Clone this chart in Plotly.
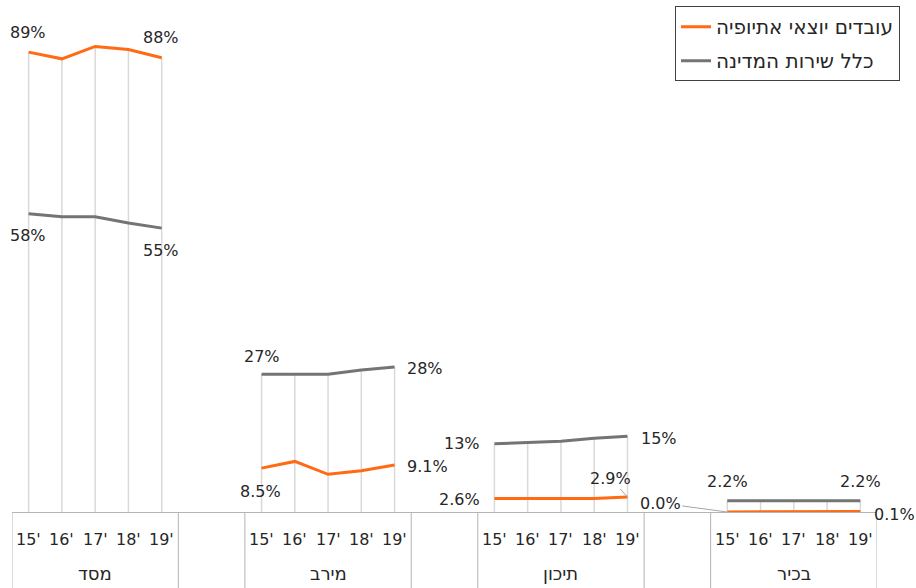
import plotly.graph_objects as go

groups = ['מסד', 'מירב', 'תיכון', 'בכיר']
years = ["15'", "16'", "17'", "18'", "19'"]
series_names = ['עובדים יוצאי אתיופיה', 'כלל שירות המדינה']

# percent per group, years 2015-2019
ethiopian = [
    [89.1, 87.8, 90.2, 89.6, 88.0],
    [8.5, 9.8, 7.3, 8.0, 9.1],
    [2.6, 2.6, 2.6, 2.6, 2.9],
    [0.0, 0.0, 0.1, 0.1, 0.1],
]
civil_service = [
    [57.8, 57.2, 57.2, 56.0, 55.0],
    [26.7, 26.7, 26.7, 27.5, 28.1],
    [13.2, 13.5, 13.7, 14.3, 14.7],
    [2.2, 2.2, 2.2, 2.2, 2.2],
]

ORANGE = '#FF6A13'
GREY = '#747474'
TEXT = '#262626'
FONT = 'DejaVu Sans'
GAP = 2  # empty categories between the groups
STEP = len(years) + GAP


def xs(g):
    return [g * STEP + i for i in range(len(years))]


def pct(v):
    return f'{v:.1f}%' if v < 10 else f'{v:.0f}%'


fig = go.Figure()

# drop lines from the axis up to the higher of the two series
drop_x, drop_y = [], []
for g in range(len(groups)):
    for x, a, b in zip(xs(g), ethiopian[g], civil_service[g]):
        drop_x += [x, x, None]
        drop_y += [0, max(a, b), None]
fig.add_trace(go.Scatter(x=drop_x, y=drop_y, mode='lines',
                         line={'color': '#d9d9d9', 'width': 1.5},
                         hoverinfo='skip', showlegend=False))

for name, data, color in [(series_names[0], ethiopian, ORANGE),
                          (series_names[1], civil_service, GREY)]:
    for g in range(len(groups)):
        fig.add_trace(go.Scatter(x=xs(g), y=data[g], mode='lines',
                                 line={'color': color, 'width': 3},
                                 name=name, legendgroup=name,
                                 showlegend=(g == 0)))

# data labels: (series, group, point, xanchor, xshift, yshift, leader offset)
label_pos = [
    (ethiopian, 0, 0, 'center', -1, 20, None),
    (ethiopian, 0, 4, 'center', -1, 20, None),
    (civil_service, 0, 0, 'center', -1, -22, None),
    (civil_service, 0, 4, 'center', -1, -22, None),
    (civil_service, 1, 0, 'center', 0, 18, None),
    (civil_service, 1, 4, 'left', 10, -2, None),
    (ethiopian, 1, 0, 'center', -1, -23, None),
    (ethiopian, 1, 4, 'left', 10, -1, None),
    (civil_service, 2, 0, 'right', -12, 0, None),
    (civil_service, 2, 4, 'left', 12, -2, None),
    (ethiopian, 2, 0, 'right', -12, -1, None),
    (ethiopian, 2, 4, 'center', 0, 0, (-17, -19)),
    (civil_service, 3, 0, 'center', 0, 19, None),
    (civil_service, 3, 4, 'center', 0, 19, None),
    (ethiopian, 3, 0, 'center', 0, 0, (-67, -9)),
    (ethiopian, 3, 4, 'left', 12, -3, None),
]
for data, g, i, xanchor, xshift, yshift, leader in label_pos:
    ann = dict(x=xs(g)[i], y=data[g][i], text=pct(data[g][i]),
               xanchor=xanchor, yanchor='middle',
               font={'size': 16, 'color': TEXT})
    if leader:
        ann.update(showarrow=True, ax=leader[0], ay=leader[1],
                   arrowhead=0, arrowwidth=1, arrowcolor='#a6a6a6')
    else:
        ann.update(showarrow=False, xshift=xshift, yshift=yshift)
    fig.add_annotation(**ann)

# two-level category axis: years and groups, with separator lines
sep_bottom = -76 / 512
for g, group in enumerate(groups):
    for x, year in zip(xs(g), years):
        fig.add_annotation(x=x, y=0, xref='x', yref='paper', text=year,
                           showarrow=False, yanchor='middle', yshift=-27,
                           font={'size': 16, 'color': TEXT})
    fig.add_annotation(x=xs(g)[2], y=0, xref='x', yref='paper', text=group,
                       showarrow=False, yanchor='middle', yshift=-61,
                       font={'size': 18, 'color': TEXT})
    for x in (xs(g)[0] - 0.5, xs(g)[-1] + 0.5):
        fig.add_shape(type='line', xref='x', yref='paper', x0=x, x1=x,
                      y0=0, y1=sep_bottom, line={'color': '#b4b4b4', 'width': 1})

fig.update_layout(
    width=916, height=588,
    margin={'l': 12, 'r': 39, 't': 0, 'b': 76, 'autoexpand': False},
    paper_bgcolor='white', plot_bgcolor='white',
    font={'family': FONT, 'size': 16, 'color': TEXT},
    showlegend=True,
    legend={'x': 0.7665, 'y': 0.988, 'xanchor': 'left', 'yanchor': 'top',
            'bordercolor': '#404040', 'borderwidth': 1, 'bgcolor': 'white',
            'tracegroupgap': 5, 'font': {'size': 20, 'color': TEXT}},
    xaxis={'range': [-0.5, len(groups) * STEP - GAP - 0.5], 'showticklabels': False,
           'showgrid': False, 'zeroline': False, 'showline': True,
           'linecolor': '#b4b4b4', 'linewidth': 1},
    yaxis={'range': [0, 99.2], 'visible': False},
)

# page body margin would push the 916x588 figure off the window
fig.write_html('out.html', config={'displayModeBar': False},
               post_script="document.body.style.margin='0';")
